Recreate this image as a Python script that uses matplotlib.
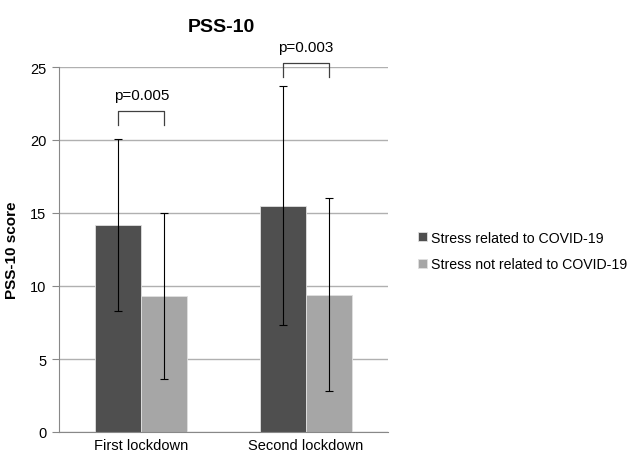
import matplotlib.pyplot as plt
import numpy as np

plt.rcParams['font.family'] = ['Liberation Sans', 'DejaVu Sans']

# PSS-10 means and SDs per lockdown
categories = ['First lockdown', 'Second lockdown']
related_mean = [14.2, 15.5]
related_sd = [5.9, 8.2]
not_related_mean = [9.3, 9.4]
not_related_sd = [5.7, 6.6]
p_values = ['p=0.005', 'p=0.003']
bracket_top = [22.0, 25.3]

fig = plt.figure(figsize=(6.35, 4.56), dpi=100)
ax = fig.add_axes([59 / 635, 1 - 433 / 456, 329 / 635, 365 / 456])

x = np.arange(len(categories))
w = 0.28
ax.bar(x - w / 2, related_mean, w, color='#4f4f4f', edgecolor='#e0e0e0', linewidth=0.6,
       label='Stress related to COVID-19', zorder=2)
ax.bar(x + w / 2, not_related_mean, w, color='#a6a6a6', edgecolor='#e0e0e0', linewidth=0.6,
       label='Stress not related to COVID-19', zorder=2)
ax.errorbar(x - w / 2, related_mean, yerr=related_sd, fmt='none', ecolor='black',
            elinewidth=0.8, capsize=3, capthick=0.8, zorder=3)
ax.errorbar(x + w / 2, not_related_mean, yerr=not_related_sd, fmt='none', ecolor='black',
            elinewidth=0.8, capsize=3, capthick=0.8, zorder=3)

# significance brackets
for i in range(len(categories)):
    top = bracket_top[i]
    ax.plot([i - w / 2, i - w / 2, i + w / 2, i + w / 2], [top - 1, top, top, top - 1],
            color='#404040', lw=0.9, clip_on=False, zorder=4)
    ax.text(i, top + 0.6, p_values[i], ha='center', va='bottom', fontsize=11)

ax.set_xlim(-0.5, 1.5)
ax.set_ylim(0, 25)
ax.set_yticks([0, 5, 10, 15, 20, 25])
ax.set_xticks(x)
ax.set_xticklabels(categories, fontsize=10.5)
ax.tick_params(axis='y', labelsize=10.5, length=5, color='#888888', pad=4)
ax.tick_params(axis='x', length=0, pad=4)
ax.yaxis.grid(True, color='#b0b0b0', lw=1)
ax.set_axisbelow(True)
for s in ['top', 'right']:
    ax.spines[s].set_visible(False)
ax.spines['left'].set_color('#888888')
ax.spines['bottom'].set_color('#888888')
ax.set_ylabel('PSS-10 score', fontsize=11, fontweight='bold', labelpad=8)
fig.text(221 / 635, 1 - 28 / 456, 'PSS-10', ha='center', va='center',
         fontsize=14, fontweight='bold')

fig.legend(loc='center left', bbox_to_anchor=(418 / 635, 1 - 252 / 456), frameon=False,
           fontsize=10.2, handlelength=0.6, handleheight=0.6, handletextpad=0.3,
           labelspacing=0.9, borderaxespad=0, borderpad=0)

fig.savefig('out.png', dpi=100)
